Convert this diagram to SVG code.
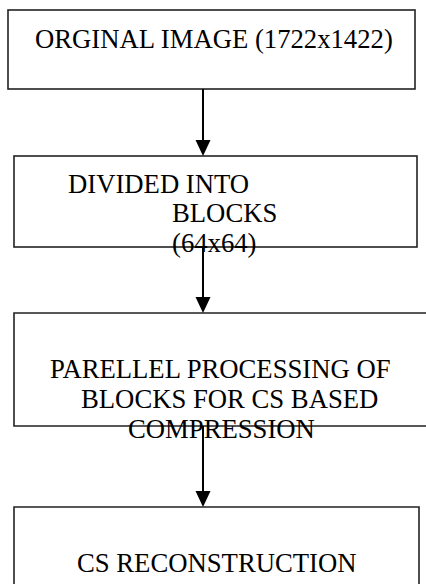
<svg xmlns="http://www.w3.org/2000/svg" width="426" height="584" viewBox="0 0 426 584">
  <style>
    .box { fill: none; stroke: #222; stroke-width: 1.6; }
    .lbl { font-family: "Liberation Serif", "Times New Roman", serif; font-size: 26.7px; fill: #000; }
    .wire { stroke: #000; stroke-width: 2; fill: none; }
    .head { fill: #000; }
  </style>
  <rect width="426" height="584" fill="#fff"/>

  <g id="original-image">
    <rect class="box" x="8" y="10" width="407" height="79"/>
    <text class="lbl" x="35" y="47.5">ORGINAL IMAGE (1722x1422)</text>
  </g>

  <g id="divide-blocks">
    <rect class="box" x="14" y="156" width="403" height="91"/>
    <text class="lbl" x="68" y="193">DIVIDED INTO</text>
    <text class="lbl" x="172" y="222">BLOCKS</text>
    <text class="lbl" x="172" y="252">(64x64)</text>
  </g>

  <g id="parallel-processing">
    <path class="box" d="M440,313 H14 V426 H440"/>
    <text class="lbl" x="50" y="378">PARELLEL PROCESSING OF</text>
    <text class="lbl" x="81" y="408">BLOCKS FOR CS BASED</text>
    <text class="lbl" x="128" y="438">COMPRESSION</text>
  </g>

  <g id="cs-reconstruction">
    <path class="box" d="M14,600 V507 H419 V600"/>
    <text class="lbl" x="77" y="571.5">CS RECONSTRUCTION</text>
  </g>

  <g id="connectors">
    <line class="wire" x1="203" y1="89" x2="203" y2="140"/>
    <path class="head" d="M195.5,140 L210.5,140 L203,156 Z"/>
    <line class="wire" x1="203" y1="247" x2="203" y2="297"/>
    <path class="head" d="M195.5,297 L210.5,297 L203,313 Z"/>
    <line class="wire" x1="203" y1="426" x2="203" y2="491"/>
    <path class="head" d="M195.5,491 L210.5,491 L203,507 Z"/>
  </g>
</svg>
